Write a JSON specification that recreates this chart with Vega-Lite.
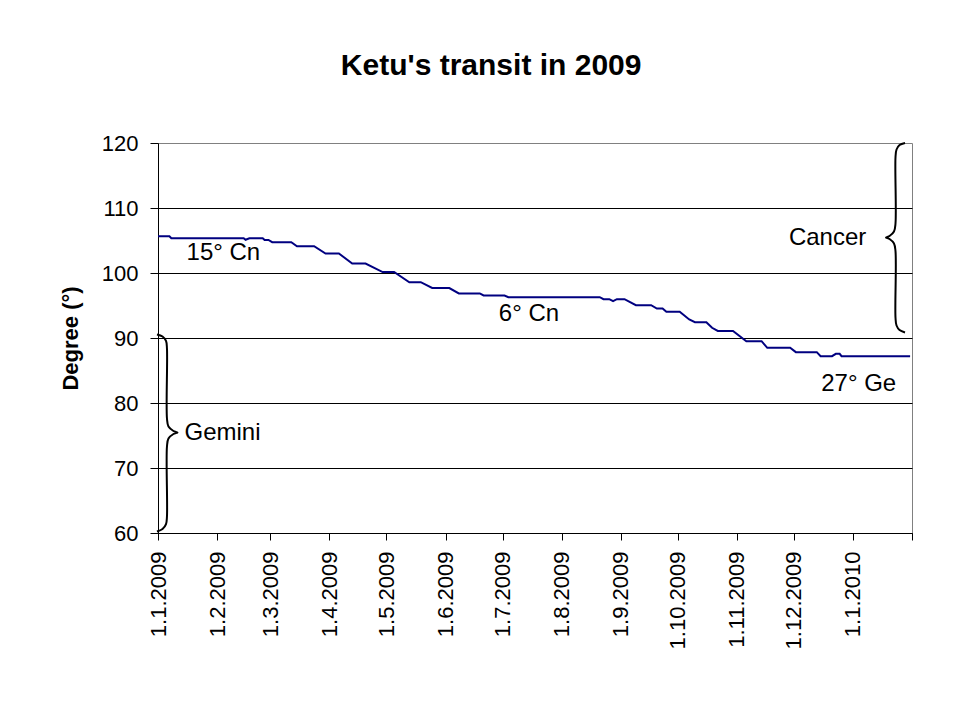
{
  "$schema": "https://vega.github.io/schema/vega-lite/v6.json",
  "width": 754,
  "height": 390,
  "autosize": {"type": "none"},
  "padding": {"left": 158, "top": 143, "right": 48, "bottom": 187},
  "background": "white",
  "config": {
    "font": "Liberation Sans",
    "view": {"stroke": "#808080", "strokeWidth": 1}
  },
  "title": {
    "text": "Ketu's transit in 2009",
    "fontSize": 30,
    "fontWeight": "bold",
    "font": "Liberation Sans",
    "color": "black",
    "anchor": "middle",
    "frame": "bounds",
    "offset": 51
  },
  "datasets": {
    "series": [
      {"date": "2009-01-01T00:00", "deg": 105.66},
      {"date": "2009-01-07T00:00", "deg": 105.66},
      {"date": "2009-01-08T00:00", "deg": 105.35},
      {"date": "2009-02-15T00:00", "deg": 105.35},
      {"date": "2009-02-16T00:00", "deg": 105.11},
      {"date": "2009-02-18T00:00", "deg": 105.35},
      {"date": "2009-02-25T00:00", "deg": 105.35},
      {"date": "2009-02-26T00:00", "deg": 105.08},
      {"date": "2009-02-28T00:00", "deg": 105.08},
      {"date": "2009-03-02T00:00", "deg": 104.74},
      {"date": "2009-03-12T00:00", "deg": 104.74},
      {"date": "2009-03-15T00:00", "deg": 104.12},
      {"date": "2009-03-24T00:00", "deg": 104.12},
      {"date": "2009-03-30T00:00", "deg": 103.0},
      {"date": "2009-04-06T00:00", "deg": 103.0},
      {"date": "2009-04-13T00:00", "deg": 101.46},
      {"date": "2009-04-20T00:00", "deg": 101.46},
      {"date": "2009-04-29T00:00", "deg": 100.15},
      {"date": "2009-05-05T00:00", "deg": 100.15},
      {"date": "2009-05-13T00:00", "deg": 98.58},
      {"date": "2009-05-19T00:00", "deg": 98.58},
      {"date": "2009-05-25T00:00", "deg": 97.69},
      {"date": "2009-06-03T00:00", "deg": 97.69},
      {"date": "2009-06-08T00:00", "deg": 96.85},
      {"date": "2009-06-19T00:00", "deg": 96.85},
      {"date": "2009-06-21T00:00", "deg": 96.54},
      {"date": "2009-07-02T00:00", "deg": 96.54},
      {"date": "2009-07-04T00:00", "deg": 96.28},
      {"date": "2009-08-21T00:00", "deg": 96.28},
      {"date": "2009-08-23T00:00", "deg": 95.97},
      {"date": "2009-08-26T00:00", "deg": 95.97},
      {"date": "2009-08-28T00:00", "deg": 95.66},
      {"date": "2009-08-30T00:00", "deg": 95.97},
      {"date": "2009-09-03T00:00", "deg": 95.97},
      {"date": "2009-09-09T00:00", "deg": 95.05},
      {"date": "2009-09-17T00:00", "deg": 95.05},
      {"date": "2009-09-20T00:00", "deg": 94.54},
      {"date": "2009-09-23T00:00", "deg": 94.54},
      {"date": "2009-09-25T00:00", "deg": 94.03},
      {"date": "2009-10-02T00:00", "deg": 94.03},
      {"date": "2009-10-07T00:00", "deg": 92.85},
      {"date": "2009-10-10T00:00", "deg": 92.43},
      {"date": "2009-10-16T00:00", "deg": 92.43},
      {"date": "2009-10-19T00:00", "deg": 91.57},
      {"date": "2009-10-22T00:00", "deg": 91.08},
      {"date": "2009-10-30T00:00", "deg": 91.08},
      {"date": "2009-11-06T00:00", "deg": 89.51},
      {"date": "2009-11-14T00:00", "deg": 89.51},
      {"date": "2009-11-17T00:00", "deg": 88.49},
      {"date": "2009-11-29T00:00", "deg": 88.49},
      {"date": "2009-12-02T00:00", "deg": 87.82},
      {"date": "2009-12-13T00:00", "deg": 87.82},
      {"date": "2009-12-15T00:00", "deg": 87.2},
      {"date": "2009-12-21T00:00", "deg": 87.2},
      {"date": "2009-12-23T00:00", "deg": 87.57},
      {"date": "2009-12-25T00:00", "deg": 87.57},
      {"date": "2009-12-26T00:00", "deg": 87.2},
      {"date": "2010-01-31T00:00", "deg": 87.2}
    ],
    "braces": [
      {"brace": "Cancer", "i": 1, "date": "2010-01-28T08:00", "deg": 120},
      {"brace": "Cancer", "i": 2, "date": "2010-01-25T11:00", "deg": 119.69},
      {"brace": "Cancer", "i": 3, "date": "2010-01-23T21:00", "deg": 119.0},
      {"brace": "Cancer", "i": 4, "date": "2010-01-23T08:00", "deg": 117.77},
      {"brace": "Cancer", "i": 5, "date": "2010-01-23T08:00", "deg": 107.62},
      {"brace": "Cancer", "i": 6, "date": "2010-01-22T13:00", "deg": 106.38},
      {"brace": "Cancer", "i": 7, "date": "2010-01-20T05:00", "deg": 105.69},
      {"brace": "Cancer", "i": 8, "date": "2010-01-18T08:00", "deg": 105.46},
      {"brace": "Cancer", "i": 9, "date": "2010-01-20T05:00", "deg": 105.23},
      {"brace": "Cancer", "i": 10, "date": "2010-01-22T13:00", "deg": 104.54},
      {"brace": "Cancer", "i": 11, "date": "2010-01-23T08:00", "deg": 103.38},
      {"brace": "Cancer", "i": 12, "date": "2010-01-23T08:00", "deg": 93.15},
      {"brace": "Cancer", "i": 13, "date": "2010-01-23T21:00", "deg": 91.92},
      {"brace": "Cancer", "i": 14, "date": "2010-01-25T11:00", "deg": 91.23},
      {"brace": "Cancer", "i": 15, "date": "2010-01-28T08:00", "deg": 90.85},
      {"brace": "Gemini", "i": 1, "date": "2008-12-31T11:00", "deg": 90.54},
      {"brace": "Gemini", "i": 2, "date": "2009-01-03T09:00", "deg": 90.23},
      {"brace": "Gemini", "i": 3, "date": "2009-01-05T05:00", "deg": 89.54},
      {"brace": "Gemini", "i": 4, "date": "2009-01-05T17:00", "deg": 88.38},
      {"brace": "Gemini", "i": 5, "date": "2009-01-05T17:00", "deg": 77.62},
      {"brace": "Gemini", "i": 6, "date": "2009-01-06T12:00", "deg": 76.38},
      {"brace": "Gemini", "i": 7, "date": "2009-01-09T03:00", "deg": 75.69},
      {"brace": "Gemini", "i": 8, "date": "2009-01-11T06:00", "deg": 75.46},
      {"brace": "Gemini", "i": 9, "date": "2009-01-09T03:00", "deg": 75.23},
      {"brace": "Gemini", "i": 10, "date": "2009-01-06T12:00", "deg": 74.54},
      {"brace": "Gemini", "i": 11, "date": "2009-01-05T17:00", "deg": 73.31},
      {"brace": "Gemini", "i": 12, "date": "2009-01-05T17:00", "deg": 62.54},
      {"brace": "Gemini", "i": 13, "date": "2009-01-05T05:00", "deg": 61.38},
      {"brace": "Gemini", "i": 14, "date": "2009-01-03T09:00", "deg": 60.62},
      {"brace": "Gemini", "i": 15, "date": "2008-12-31T11:00", "deg": 60.23}
    ],
    "labelsLeft": [
      {"date": "2009-01-16T00:00", "deg": 103.1, "text": "15° Cn"},
      {"date": "2009-06-29T00:00", "deg": 93.75, "text": "6° Cn"},
      {"date": "2009-01-14T22:00", "deg": 75.46, "text": "Gemini"}
    ],
    "labelsRight": [
      {"date": "2010-01-08T00:00", "deg": 105.46, "text": "Cancer"},
      {"date": "2010-01-23T17:00", "deg": 82.85, "text": "27° Ge"}
    ]
  },
  "encoding": {
    "x": {
      "field": "date",
      "type": "temporal",
      "scale": {"domain": ["2009-01-01T00:00", "2010-02-01T00:00"], "nice": false},
      "axis": {
        "title": null,
        "grid": false,
        "tickCount": {"interval": "month", "step": 1},
        "labelExpr": "(year(datum.value) == 2010 && month(datum.value) == 1) ? '' : timeFormat(datum.value, '%-d.%-m.%Y')",
        "labelAngle": 270,
        "labelAlign": "right",
        "labelBaseline": "middle",
        "labelFontSize": 22,
        "labelFont": "Liberation Sans",
        "labelColor": "black",
        "labelPadding": 11,
        "labelOverlap": false,
        "labelFlush": false,
        "labelBound": false,
        "tickSize": 7,
        "tickColor": "black",
        "domainColor": "black"
      }
    },
    "y": {
      "field": "deg",
      "type": "quantitative",
      "scale": {"domain": [60, 120], "nice": false, "zero": false},
      "axis": {
        "title": "Degree (°)",
        "titleFontSize": 22,
        "titleFontWeight": "bold",
        "titleFont": "Liberation Sans",
        "titleColor": "black",
        "titlePadding": 19,
        "values": [60, 70, 80, 90, 100, 110, 120],
        "labelFontSize": 22,
        "labelFont": "Liberation Sans",
        "labelColor": "black",
        "labelPadding": 12,
        "tickSize": 8,
        "tickColor": "black",
        "domainColor": "black",
        "grid": true,
        "gridColor": "black",
        "gridOpacity": {"condition": {"test": "datum.value == 120", "value": 0}, "value": 1}
      }
    }
  },
  "layer": [
    {
      "data": {"name": "series"},
      "mark": {"type": "line", "color": "#000080", "strokeWidth": 2}
    },
    {
      "data": {"name": "braces"},
      "mark": {"type": "line", "color": "black", "strokeWidth": 2, "interpolate": "catmull-rom"},
      "encoding": {
        "detail": {"field": "brace", "type": "nominal"},
        "order": {"field": "i", "type": "quantitative"}
      }
    },
    {
      "data": {"name": "labelsLeft"},
      "mark": {"type": "text", "align": "left", "baseline": "middle", "fontSize": 24, "font": "Liberation Sans", "color": "black"},
      "encoding": {"text": {"field": "text", "type": "nominal"}}
    },
    {
      "data": {"name": "labelsRight"},
      "mark": {"type": "text", "align": "right", "baseline": "middle", "fontSize": 24, "font": "Liberation Sans", "color": "black"},
      "encoding": {"text": {"field": "text", "type": "nominal"}}
    }
  ]
}
